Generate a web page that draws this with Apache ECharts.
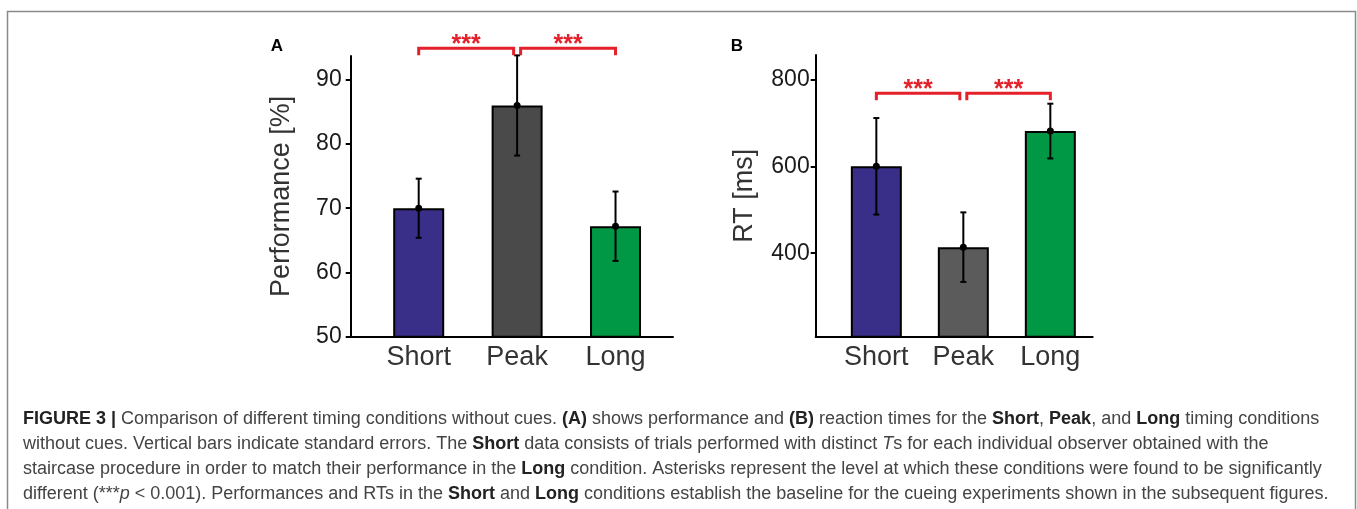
<!DOCTYPE html>
<html>
<head>
<meta charset="utf-8">
<script src="https://cdn.jsdelivr.net/npm/echarts@6/dist/echarts.min.js"></script>
<style>
  html, body { margin: 0; padding: 0; background: #fff; }
  #chart { width: 1357px; height: 509px; }
</style>
</head>
<body>
<div id="chart"></div>
<script>
const categories = ['Short', 'Peak', 'Long']
const perfMean = [70.0, 86.0, 67.2]
const perfSE = [4.6, 7.8, 5.4]
const rtMean = [600, 414, 681]
const rtSE = [111, 80, 63]
const perfTicks = [50, 60, 70, 80, 90]
const rtTicks = [400, 600, 800]
// significance brackets: [from category, to category, level]
const sigA = [[1, 2, 94.9], [2, 3, 94.9]]
const sigB = [[1, 2, 768], [2, 3, 768]]
const sigText = '***'

const colorsA = ['#3a2f88', '#4a4a4a', '#009844']
const colorsB = ['#3a2f88', '#5b5b5b', '#009844']
const red = '#e4202a'
const font = 'Liberation Sans, Arial, sans-serif'

const captionLines = [
  '{b|FIGURE 3 |} Comparison of different timing conditions without cues. {b|(A)} shows performance and {b|(B)} reaction times for the {b|Short}, {b|Peak}, and {b|Long} timing conditions',
  'without cues. Vertical bars indicate standard errors. The {b|Short} data consists of trials performed with distinct {i|T}s for each individual observer obtained with the',
  'staircase procedure in order to match their performance in the {b|Long} condition. Asterisks represent the level at which these conditions were found to be significantly',
  'different (***{i|p} < 0.001). Performances and RTs in the {b|Short} and {b|Long} conditions establish the baseline for the cueing experiments shown in the subsequent figures.'
]

const chart = echarts.init(document.getElementById('chart'))

function barData (means, colors) {
  return means.map((v, i) => ({
    value: [i + 1, v],
    itemStyle: { color: colors[i] }
  }))
}

function errData (means, se) {
  return means.map((v, i) => [i + 1, v - se[i], v + se[i], v])
}

function renderErr (params, api) {
  const top = api.coord([api.value(0), api.value(2)])
  const bot = api.coord([api.value(0), api.value(1)])
  const mid = api.coord([api.value(0), api.value(3)])
  const st = { stroke: '#000', lineWidth: 2 }
  const cap = 3
  return {
    type: 'group',
    children: [
      { type: 'line', shape: { x1: top[0], y1: top[1], x2: bot[0], y2: bot[1] }, style: st },
      { type: 'line', shape: { x1: top[0] - cap, y1: top[1], x2: top[0] + cap, y2: top[1] }, style: st },
      { type: 'line', shape: { x1: bot[0] - cap, y1: bot[1], x2: bot[0] + cap, y2: bot[1] }, style: st },
      { type: 'circle', shape: { cx: mid[0], cy: mid[1], r: 3.5 }, style: { fill: '#000' } }
    ]
  }
}

function renderSig (params, api) {
  const a = api.coord([api.value(0), api.value(2)])
  const b = api.coord([api.value(1), api.value(2)])
  // leave a small gap where the two brackets meet over the middle bar
  const x1 = a[0] + (params.dataIndex === 1 ? 3.5 : 0)
  const x2 = b[0] - (params.dataIndex === 0 ? 3.5 : 0)
  const y = a[1]
  const drop = 7
  return {
    type: 'group',
    children: [
      {
        type: 'polyline',
        shape: { points: [[x1, y + drop], [x1, y], [x2, y], [x2, y + drop]] },
        style: { stroke: red, lineWidth: 3, fill: null }
      },
      {
        type: 'text',
        style: {
          text: sigText, x: (x1 + x2) / 2, y: y - 3,
          align: 'center', verticalAlign: 'middle',
          fill: red, font: 'bold 25px ' + font
        }
      }
    ]
  }
}

function yAxis (gi, min, max, ticks, name, margin, nameGap) {
  return {
    type: 'value', gridIndex: gi, min: min, max: max,
    name: name, nameLocation: 'middle', nameGap: nameGap,
    nameTextStyle: { fontSize: 27, color: '#333', fontFamily: font },
    axisLine: { show: true, onZero: false, lineStyle: { color: '#000', width: 2 } },
    axisTick: { show: true, length: 5, customValues: ticks, lineStyle: { color: '#000', width: 2 } },
    axisLabel: { customValues: ticks, margin: margin, fontSize: 23, color: '#1a1a1a', fontFamily: font },
    splitLine: { show: false }
  }
}

function xAxis (gi, min, max) {
  return {
    type: 'value', gridIndex: gi, min: min, max: max,
    axisLine: { show: true, onZero: false, lineStyle: { color: '#000', width: 2 } },
    axisTick: { show: false },
    axisLabel: {
      customValues: [1, 2, 3], margin: 7, fontSize: 27, color: '#333', fontFamily: font,
      formatter: v => categories[Math.round(v) - 1]
    },
    splitLine: { show: false }
  }
}

const graphics = [
  {
    type: 'rect', silent: true,
    shape: { x: 7.5, y: 11.5, width: 1348, height: 520 },
    style: { fill: null, stroke: '#8a8a8a', lineWidth: 1.5 }
  },
  { type: 'text', x: 277, y: 46, style: { text: 'A', font: 'bold 17px ' + font, fill: '#000', align: 'center', verticalAlign: 'middle' } },
  { type: 'text', x: 737, y: 46, style: { text: 'B', font: 'bold 17px ' + font, fill: '#000', align: 'center', verticalAlign: 'middle' } }
]
captionLines.forEach((line, i) => {
  graphics.push({
    type: 'text', x: 23, y: 419 + i * 25,
    style: {
      text: line, fontSize: 18, fontFamily: font, fill: '#444',
      verticalAlign: 'middle',
      rich: {
        b: { fontWeight: 'bold', fontSize: 18, fontFamily: font, fill: '#222' },
        i: { fontStyle: 'italic', fontSize: 18, fontFamily: font, fill: '#444' }
      }
    }
  })
})

chart.setOption({
  animation: false,
  backgroundColor: '#fff',
  grid: [
    { left: 350.7, top: 56, width: 322.3, height: 280.7 },
    { left: 815.7, top: 55, width: 277, height: 281.7 }
  ],
  xAxis: [xAxis(0, 0.309, 3.584), xAxis(1, 0.303, 3.487)],
  yAxis: [
    yAxis(0, 50, 93.7, perfTicks, 'Performance [%]', 9, 56),
    yAxis(1, 208, 856, rtTicks, 'RT [ms]', 6, 58)
  ],
  series: [
    {
      type: 'bar', xAxisIndex: 0, yAxisIndex: 0, barWidth: 51,
      itemStyle: { borderColor: '#000', borderWidth: 2 },
      data: barData(perfMean, colorsA)
    },
    {
      type: 'bar', xAxisIndex: 1, yAxisIndex: 1, barWidth: 51,
      itemStyle: { borderColor: '#000', borderWidth: 2 },
      data: barData(rtMean, colorsB)
    },
    { type: 'custom', xAxisIndex: 0, yAxisIndex: 0, z: 5, renderItem: renderErr, data: errData(perfMean, perfSE) },
    { type: 'custom', xAxisIndex: 1, yAxisIndex: 1, z: 5, renderItem: renderErr, data: errData(rtMean, rtSE) },
    { type: 'custom', xAxisIndex: 0, yAxisIndex: 0, z: 5, renderItem: renderSig, data: sigA },
    { type: 'custom', xAxisIndex: 1, yAxisIndex: 1, z: 5, renderItem: renderSig, data: sigB }
  ],
  graphic: graphics
})
</script>
</body>
</html>
